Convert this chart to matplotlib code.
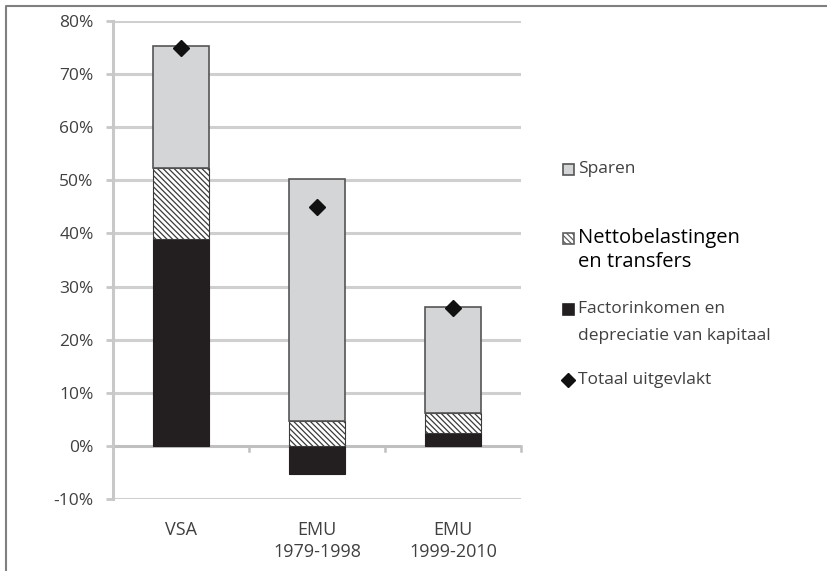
import numpy as np
import matplotlib
matplotlib.use('Agg')
import matplotlib.pyplot as plt
from matplotlib.patches import Rectangle
from matplotlib.lines import Line2D

plt.rcParams['font.family'] = ['Open Sans', 'DejaVu Sans']
plt.rcParams['hatch.linewidth'] = 0.9

categories	= ['VSA', 'EMU\n1979-1998', 'EMU\n1999-2010']
factor		= [39.0, -5.3, 2.5]
netto		= [13.4, 4.7, 3.7]
sparen		= [22.8, 45.5, 20.0]
totaal		= [75.0, 45.0, 26.0]
yticks		= [-10, 0, 10, 20, 30, 40, 50, 60, 70, 80]
labels		= ['Sparen', 'Nettobelastingen\nen transfers', 'Factorinkomen en\ndepreciatie van kapitaal', 'Totaal uitgevlakt']

txt_col='#404040'
gray_fill='#d4d5d6'
black_fill='#231f20'
hatch='\\\\\\\\\\\\'

W,H=827.,571.
fig=plt.figure(figsize=(8.27,5.71),dpi=100)
ax=fig.add_axes([113/W,1-499/H,408/W,478/H])

x=np.arange(len(categories))
w=0.41
fac=np.array(factor); net=np.array(netto); spa=np.array(sparen)
# positive parts stack from zero, negative factor part hangs below zero
pos_base=np.where(fac>0,fac,0)
ax.bar(x,fac,w,color=black_fill,edgecolor=black_fill,lw=0.8,zorder=3)
ax.bar(x,net,w,bottom=pos_base,color='white',edgecolor='#3a3a3a',hatch=hatch,lw=0.8,zorder=3)
ax.bar(x,spa,w,bottom=pos_base+net,color=gray_fill,edgecolor='#555555',lw=1.2,zorder=3)
ax.plot(x,totaal,'D',color='#111111',ms=8,zorder=4)

ax.set_ylim(-10,80)
ax.set_xlim(-0.5,2.5)
ax.set_yticks(yticks)
ax.set_yticklabels([str(v)+'%' for v in yticks],color=txt_col,fontsize=12.5)
ax.set_xticks(x)
ax.set_xticklabels(categories,color=txt_col,fontsize=13,linespacing=1.25)
ax.tick_params(axis='x',length=0,pad=16)
ax.tick_params(axis='y',length=5,color='#c8c8c8',width=2,pad=9)
for v in yticks:
	if v!=0: ax.axhline(v,color='#cfcfcf',lw=2.2,zorder=1)
ax.axhline(0,color='#c0c0c0',lw=2.2,zorder=2)
for b in [0.5,1.5,2.5]:
	ax.plot([b,b],[0,-1.0],color='#c0c0c0',lw=1.8,zorder=2,clip_on=False)
for s in ['top','right','bottom']: ax.spines[s].set_visible(False)
ax.spines['left'].set_color('#c8c8c8')
ax.spines['left'].set_linewidth(2.2)

# legend drawn by hand, pixel positions of the first line of each entry
leg_y=[169,238,309,380]
mx=568; tx=578; sq=11
for i,lab in enumerate(labels):
	y=leg_y[i]
	if i==3:
		fig.add_artist(Line2D([mx/W],[1-y/H],marker='D',color='#111111',ms=7,ls='none',transform=fig.transFigure))
	else:
		fc=[gray_fill,'white',black_fill][i]
		ec=['#555555','#606060',black_fill][i]
		fig.add_artist(Rectangle(((mx-sq/2)/W,1-(y+sq/2)/H),sq/W,sq/H,transform=fig.transFigure,
			facecolor=fc,edgecolor=ec,lw=1.2,hatch=hatch if i==1 else None))
	col='black' if i==1 else txt_col
	fs=14.5 if i==1 else 12.5
	step=24 if i==1 else 27
	for j,line in enumerate(lab.split('\n')):
		fig.text(tx/W,1-(y+j*step)/H,line,color=col,fontsize=fs,va='center',ha='left')

fig.add_artist(Line2D([6/W,6/W,1],[0,1-6/H,1-6/H],color='#808080',lw=1.5,transform=fig.transFigure))
plt.savefig('out.png',dpi=100)
